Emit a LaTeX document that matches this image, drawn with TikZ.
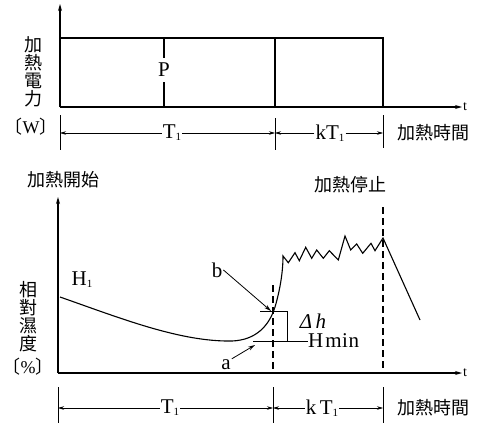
\documentclass[tikz,border=0pt]{standalone}
\usepackage{fontspec}
\setmainfont{Liberation Serif}
\newfontfamily\cjk{Noto Sans CJK TC}
\usetikzlibrary{arrows.meta}
\begin{document}
\begin{tikzpicture}[x=1pt,y=-1pt,
  ax/.style={line width=1.1pt,-{Stealth[length=7pt,width=4pt]}},
  ln/.style={line width=1.1pt},
  tick/.style={line width=0.8pt},
  dimarr/.style={line width=0.6pt,-{Stealth[length=6pt,width=3.5pt]}},
  ptr/.style={line width=0.8pt,-{Stealth[length=7pt,width=4pt,open]}},
  dsh/.style={line width=1.1pt,dash pattern=on 7pt off 4pt},
  lab/.style={font=\fontsize{21}{21}\selectfont,inner sep=1pt},
  sm/.style={font=\fontsize{14}{14}\selectfont,inner sep=1pt},
  cj/.style={font=\cjk\fontsize{18}{18}\selectfont,inner sep=1pt,align=center}]
\useasboundingbox (0,0) rectangle (478,431);
\newcommand{\Tone}{T\raisebox{-2pt}{\fontsize{11}{11}\selectfont 1}}
% ---------- top graph ----------
\coordinate (o1) at (60,107);
\coordinate (y1) at (60,4);
\coordinate (x1) at (462,107);
\draw[ax] (o1) -- (y1);
\draw[ax] (o1) -- (x1);
\node[sm,anchor=west] (t1) at (x1) {t};
\coordinate (tl) at (60,38);
\coordinate (tr) at (383,38);
\coordinate (br) at (383,107);
\coordinate (mt) at (275,38);
\coordinate (mb) at (275,107);
\draw[ln] (tl) -- (tr) -- (br);
\draw[ln] (mt) -- (mb);
\node[lab,inner sep=5pt] (P) at (164,70) {P};
\draw[ln] (164,38) -- (P.north);
\draw[ln] (P.south) -- (164,107);
\node[cj] (ylab1) at (33,72) {加\\熱\\電\\力};
\node[cj] (unit1) at (31,127) {〔{\rmfamily W}〕};
% dimension line top
\coordinate (ta) at (60,133);
\coordinate (tb) at (275,133);
\coordinate (tc) at (383,133);
\draw[tick] (60,115) -- (60,150);
\draw[tick] (275,118) -- (275,150);
\draw[tick] (383,115) -- (383,148);
\node[lab] (T1a) at (172,133) {\Tone};
\node[lab] (kT1a) at (330,133) {k\Tone};
\draw[dimarr] (T1a.west) -- (ta);
\draw[dimarr] (T1a.east) -- (tb);
\draw[dimarr] (kT1a.west) -- (tb);
\draw[dimarr] (kT1a.east) -- (tc);
\node[cj] (tm1) at (433,133) {加熱時間};
% ---------- bottom graph ----------
\node[cj] (start) at (63,180) {加熱開始};
\node[cj] (stop) at (350,185) {加熱停止};
\coordinate (o2) at (58,373);
\coordinate (y2) at (58,197);
\coordinate (x2) at (462,373);
\draw[ax] (o2) -- (y2);
\draw[ax] (o2) -- (x2);
\node[sm,anchor=west] (t2) at (x2) {t};
\node[cj] (ylab2) at (28,317) {相\\對\\濕\\度};
\node[cj] (unit2) at (28,367) {〔{\rmfamily\%}〕};
\node[lab] (H1) at (82,280) {H\raisebox{-2pt}{\fontsize{11}{11}\selectfont 1}};
% humidity curve
\draw[ln] (60,297) .. controls (120,318) and (180,342) .. (232,341)
  .. controls (256,340) and (269,326) .. (275,307)
  .. controls (280,290) and (283,272) .. (283,256)
  -- (288.3,262.7) -- (295,252.7) -- (299.3,260.7) -- (305.7,247.3)
  -- (311.7,258.3) -- (316.7,250) -- (323.3,258.3) -- (329.3,250.7)
  -- (338.3,260) -- (345,236) -- (350.7,250) -- (356.7,244)
  -- (362.7,253.3) -- (371,243.3) -- (375,250.7) -- (383,238)
  -- (420,320);
% dashed verticals
\draw[dsh] (273,285) -- (273,373);
\draw[dsh] (383,207) -- (383,373);
% delta h
\coordinate (bp) at (271,311);
\draw[tick] (260,311) -- (288,311);
\draw[tick] (287,311) -- (287,341);
\coordinate (hm) at (308,341);
\draw[tick] (253,341) -- (hm);
\node[lab,anchor=west,inner sep=0pt] (Hmin) at (hm) {H\kern2pt m\kern0.5pt i\kern0.5pt n};
\node[lab] (dh) at (313,321) {\itshape Δ\,h};
\node[lab] (b) at (217,270) {b};
\node[lab] (a) at (226,365) {a};
\coordinate (ap) at (255,345);
\draw[ptr] (b.east) -- (bp);
\draw[ptr] (a.north east) -- (ap);
% dimension line bottom
\coordinate (ba) at (58,408);
\coordinate (bb) at (273,408);
\coordinate (bc) at (383,408);
\draw[tick] (58,387) -- (58,423);
\draw[tick] (273,387) -- (273,423);
\draw[tick] (383,387) -- (383,423);
\node[lab] (T1b) at (170,408) {\Tone};
\node[lab] (kT1b) at (322,408) {k\,\Tone};
\draw[dimarr] (T1b.west) -- (ba);
\draw[dimarr] (T1b.east) -- (bb);
\draw[dimarr] (kT1b.west) -- (bb);
\draw[dimarr] (kT1b.east) -- (bc);
\node[cj] (tm2) at (433,408) {加熱時間};
\end{tikzpicture}
\end{document}
